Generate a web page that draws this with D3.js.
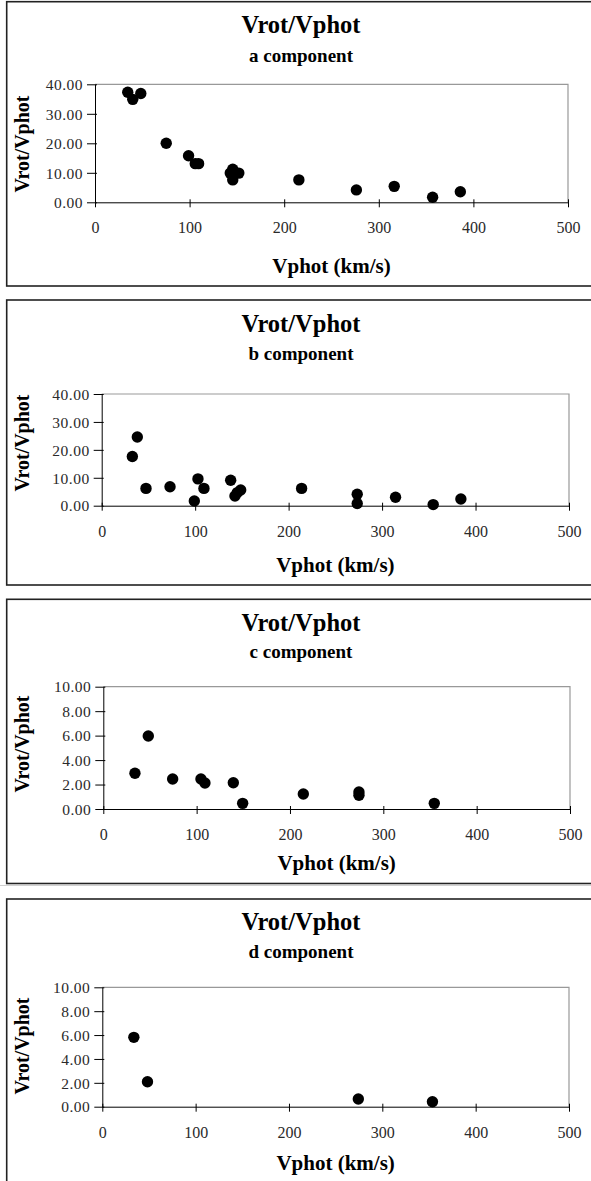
<!DOCTYPE html>
<html>
<head>
<meta charset="utf-8">
<script src="https://cdn.jsdelivr.net/npm/d3@7/dist/d3.min.js"></script>
<style>
  html, body { margin: 0; padding: 0; background: #fff; }
  svg { display: block; }
  text { font-family: "Liberation Serif", "Times New Roman", serif; }
</style>
</head>
<body>
<svg id="chart" width="591" height="1181"></svg>
<script>
// ---------- data ----------
const chartTitle = "Vrot/Vphot";
const subtitles = ["a component", "b component", "c component", "d component"];
const xAxisTitle = "Vphot (km/s)";
const yAxisTitle = "Vrot/Vphot";
const xTicks = [0, 100, 200, 300, 400, 500];
const yTicksWide = [0, 10, 20, 30, 40];
const yTicksNarrow = [0, 2, 4, 6, 8, 10];

const vphotA = [34.6, 39.9, 48.4, 75.3, 98.9, 106, 109.5, 143, 145.6, 152, 145.6, 215.5, 276.3, 316.3, 356.9, 386.2];
const ratioA = [37.3, 34.9, 36.9, 20.0, 15.8, 13.1, 13.1, 9.9, 11.2, 9.9, 7.6, 7.6, 4.2, 5.4, 1.7, 3.6];

const vphotB = [32.8, 38.1, 47.4, 73.1, 99.1, 103, 109.4, 138, 142.6, 145.1, 148.7, 213.9, 273.4, 273.4, 314.4, 354.7, 384.3];
const ratioB = [17.6, 24.6, 6.2, 6.8, 1.7, 9.6, 6.2, 9.1, 3.5, 4.7, 5.6, 6.2, 4.1, 0.8, 3.0, 0.4, 2.4];

const vphotC = [33.9, 48.2, 74.3, 104.6, 108.9, 139.3, 149.3, 214.3, 273.9, 273.9, 354.6];
const ratioC = [2.92, 5.97, 2.45, 2.45, 2.13, 2.15, 0.46, 1.23, 1.39, 1.12, 0.46];

const vphotD = [33.8, 48.4, 274.3, 353.7];
const ratioD = [5.81, 2.09, 0.64, 0.42];

// ---------- layout ----------
const panels = [
  { sub: subtitles[0], xs: vphotA, ys: ratioA, yMax: 40, yTicks: yTicksWide,
    boxTop: 1.7, boxBot: 286, x0: 95, x1: 568, yTop: 84.3, yBot: 202.3,
    tY: 33, sY: 61.7, xtY: 273, ytY: 144 },
  { sub: subtitles[1], xs: vphotB, ys: ratioB, yMax: 40, yTicks: yTicksWide,
    boxTop: 300, boxBot: 585, x0: 101.7, x1: 569, yTop: 394, yBot: 505.7,
    tY: 331.7, sY: 360, xtY: 572, ytY: 443 },
  { sub: subtitles[2], xs: vphotC, ys: ratioC, yMax: 10, yTicks: yTicksNarrow,
    boxTop: 599.3, boxBot: 883.5, x0: 103.3, x1: 570, yTop: 686.7, yBot: 809,
    tY: 630.7, sY: 658.3, xtY: 870, ytY: 744 },
  { sub: subtitles[3], xs: vphotD, ys: ratioD, yMax: 10, yTicks: yTicksNarrow,
    boxTop: 899, boxBot: 1195, x0: 102.3, x1: 569, yTop: 987.3, yBot: 1106.7,
    tY: 930, sY: 957.7, xtY: 1170, ytY: 1046 }
];

const svg = d3.select("#chart");

// faint separator line above last panel
svg.append("line").attr("x1", 0).attr("x2", 591).attr("y1", 885.5).attr("y2", 885.5)
  .attr("stroke", "#d0d0d0").attr("stroke-width", 1);

panels.forEach(p => {
  const g = svg.append("g");
  // outer box
  g.append("rect")
    .attr("x", 6.7).attr("y", p.boxTop)
    .attr("width", 600).attr("height", p.boxBot - p.boxTop)
    .attr("fill", "#fff").attr("stroke", "#222").attr("stroke-width", 1.6);

  const x = d3.scaleLinear().domain([0, 500]).range([p.x0, p.x1]);
  const y = d3.scaleLinear().domain([0, p.yMax]).range([p.yBot, p.yTop]);

  // plot border (top/right gray)
  g.append("path")
    .attr("d", `M${p.x0},${p.yTop}H${p.x1}V${p.yBot}`)
    .attr("fill", "none").attr("stroke", "#999").attr("stroke-width", 1.2);

  // x axis
  const xa = g.append("g").attr("transform", `translate(0,${p.yBot})`)
    .call(d3.axisBottom(x).tickValues(xTicks).tickSize(5).tickSizeOuter(0).tickFormat(d3.format("d")));
  xa.select(".domain").attr("stroke", "#000");
  xa.selectAll(".tick line").attr("stroke", "#000").attr("y1", -3);
  xa.selectAll(".tick text").attr("y", 31).attr("dy", 0)
    .attr("font-size", 16).attr("fill", "#2a2a2a")
    .style("font-family", "'Liberation Serif', serif");

  // y axis
  const ya = g.append("g").attr("transform", `translate(${p.x0},0)`)
    .call(d3.axisLeft(y).tickValues(p.yTicks).tickSize(8).tickSizeOuter(0).tickFormat(d3.format(".2f")));
  ya.select(".domain").attr("stroke", "#000");
  ya.selectAll(".tick line").attr("stroke", "#000").attr("x1", 2);
  ya.selectAll(".tick text").attr("x", -12).attr("dy", "0.34em")
    .attr("font-size", 15.5).attr("fill", "#2a2a2a")
    .style("letter-spacing", "0.5px")
    .style("font-family", "'Liberation Serif', serif");

  // points
  const pts = p.xs.map((v, i) => ({ x: v, y: p.ys[i] }));
  g.append("g").selectAll("circle").data(pts).join("circle")
    .attr("cx", d => x(d.x)).attr("cy", d => y(d.y)).attr("r", 5.7)
    .attr("fill", "#000");

  // titles
  g.append("text").attr("x", 301).attr("y", p.tY).attr("text-anchor", "middle")
    .attr("font-size", 24.5).attr("font-weight", "bold").attr("fill", "#000").text(chartTitle);
  g.append("text").attr("x", 301).attr("y", p.sY).attr("text-anchor", "middle")
    .attr("font-size", 19).attr("font-weight", "bold").attr("fill", "#000").text(p.sub);
  g.append("text").attr("x", (p.x0 + p.x1) / 2).attr("y", p.xtY).attr("text-anchor", "middle")
    .attr("font-size", 21).attr("font-weight", "bold").attr("fill", "#000").text(xAxisTitle);
  g.append("text")
    .attr("transform", `translate(29,${p.ytY}) rotate(-90)`)
    .attr("text-anchor", "middle")
    .attr("font-size", 20).attr("font-weight", "bold").attr("fill", "#000").text(yAxisTitle);
});
</script>
</body>
</html>
